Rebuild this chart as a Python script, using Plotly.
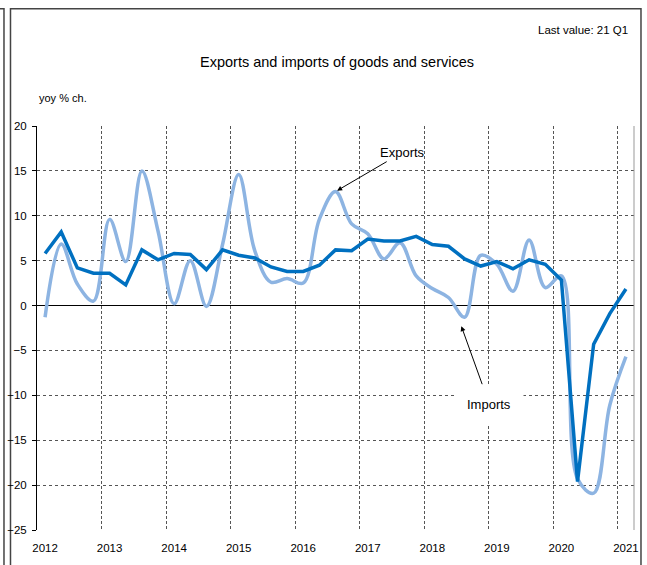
import plotly.graph_objects as go

# quarterly data, 2012 Q1 .. 2021 Q1
years = ["2012", "2013", "2014", "2015", "2016", "2017", "2018", "2019", "2020", "2021"]

exports = [5.8, 8.2, 4.2, 3.6, 3.6, 2.3, 6.2, 5.1,
           5.8, 5.7, 4.0, 6.2, 5.6, 5.3, 4.3, 3.8,
           3.8, 4.5, 6.2, 6.1, 7.4, 7.2, 7.2, 7.7,
           6.8, 6.6, 5.2, 4.4, 4.9, 4.1, 5.1, 4.6,
           2.85, -19.6, -4.3, -0.9, 1.85]

imports = [-1.3, 6.85, 2.4, 0.5, 9.6, 4.9, 15.0, 8.3,
           0.2, 5.0, -0.1, 6.8, 14.6, 6.1, 2.6, 3.0,
           2.5, 9.6, 12.7, 9.1, 8.0, 5.2, 7.0, 3.3,
           1.9, 0.9, -1.3, 5.6, 4.6, 1.6, 7.3, 2.0,
           3.3, -19.3, -20.9, -11.1, -5.7]

y_ticks = [20, 15, 10, 5, 0, -5, -10, -15, -20, -25]

FONT = "Liberation Sans, Arial, sans-serif"

q = list(range(len(exports)))

fig = go.Figure()

# light line (smoothed) goes under the dark one
fig.add_trace(go.Scatter(
    x=q, y=imports, mode="lines", name="Imports",
    line=dict(color="#8DB4E2", width=3.5, shape="spline", smoothing=1.0),
))
fig.add_trace(go.Scatter(
    x=q, y=exports, mode="lines", name="Exports",
    line=dict(color="#0070C0", width=3.5),
))

fig.update_layout(
    width=647, height=565,
    margin=dict(l=37, r=13, t=126, b=35),
    paper_bgcolor="white", plot_bgcolor="white",
    showlegend=False,
    font=dict(family=FONT, size=12, color="#000000"),
    xaxis=dict(
        range=[-0.5, 36.5],
        tickmode="array",
        tickvals=[i * 4 for i in range(len(years))],
        ticktext=years,
        ticks="", showgrid=False, zeroline=False, showline=False,
        automargin=False,
        ticklabelstandoff=9,
        tickfont=dict(family=FONT, size=11.5),
        minor=dict(tick0=3.5, dtick=4, showgrid=True, gridcolor="#555555",
                   griddash="3px,2px", gridwidth=1, ticks=""),
    ),
    yaxis=dict(
        range=[-25, 20],
        tickmode="array", tickvals=y_ticks,
        showgrid=True, gridcolor="#555555", griddash="dot", gridwidth=1,
        zeroline=True, zerolinecolor="#000000", zerolinewidth=1,
        showline=True, linecolor="#000000", linewidth=1,
        ticks="outside", ticklen=4, tickcolor="#000000",
        automargin=False,
        ticklabelstandoff=3,
        tickfont=dict(family=FONT, size=11.5),
    ),
)

# frame around the chart, edge of the neighbouring panel, right edge of plot area
fig.add_shape(type="rect", xref="paper", yref="paper",
              x0=-0.0444, x1=1.0117, y0=-0.2, y1=1.29,
              line=dict(color="#444444", width=1.5), layer="below")
fig.add_shape(type="rect", xref="paper", yref="paper",
              x0=-0.1, x1=-0.0553, y0=-0.2, y1=1.29,
              line=dict(color="#444444", width=1.5), layer="below")
fig.add_shape(type="line", xref="paper", yref="paper",
              x0=1, x1=1, y0=0, y1=1,
              line=dict(color="#999999", width=1))

fig.add_annotation(text="Last value: 21 Q1", xref="paper", yref="paper",
                   x=0.993, y=1.238, xanchor="right", yanchor="middle",
                   showarrow=False, font=dict(size=11.5))
fig.add_annotation(text="Exports and imports of goods and services",
                   xref="paper", yref="paper", x=0.502, y=1.159,
                   xanchor="center", yanchor="middle",
                   showarrow=False, font=dict(size=14.5))
fig.add_annotation(text="yoy % ch.", xref="paper", yref="paper",
                   x=0.0, y=1.0694, xanchor="left", yanchor="middle",
                   showarrow=False, font=dict(size=11))

fig.add_annotation(text="Exports", x=18.1, y=12.8, xref="x", yref="y",
                   ax=65, ay=-38, showarrow=True, arrowhead=2,
                   arrowsize=1, arrowwidth=1, arrowcolor="#000000",
                   font=dict(size=13))
fig.add_annotation(text="Imports", x=25.8, y=-2.3, xref="x", yref="y",
                   ax=28, ay=78, showarrow=True, arrowhead=2,
                   arrowsize=1, arrowwidth=1, arrowcolor="#000000",
                   bgcolor="white", borderpad=12,
                   font=dict(size=13))

# page body has a default 8px margin; drop it so the figure sits at 0,0
fig.write_html("out.html", config={"displayModeBar": False},
               post_script="document.body.style.margin='0';")
